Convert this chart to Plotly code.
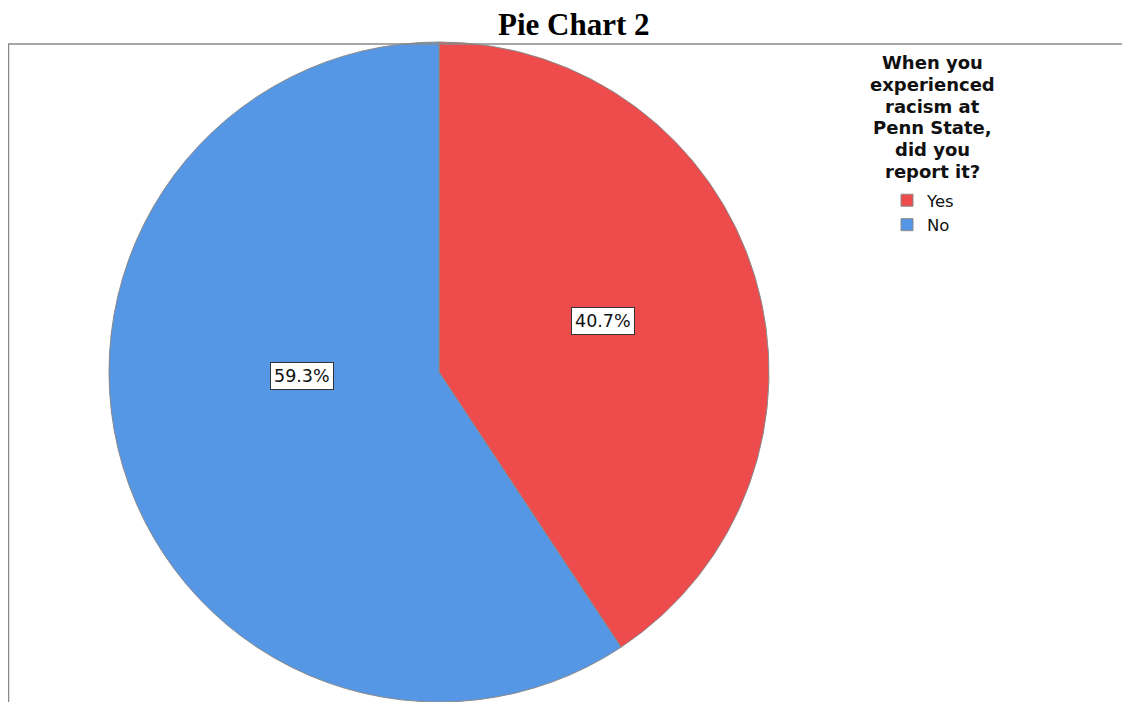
import plotly.graph_objects as go

# ---- data ----
categories = ["Yes", "No"]
percentages = [40.7, 59.3]
colors = ["#EE4B4D", "#5596E5"]
chart_title = "Pie Chart 2"
legend_title_lines = ["When you", "experienced", "racism at", "Penn State,", "did you", "report it?"]

W, H = 1130, 702
OFF = 8  # browser body margin: page px = figure px + 8


def px(x):
    return (x - OFF) / W


def py(y):
    return 1 - (y - OFF) / H


# label centres (page pixels) for the boxed percentage labels
label_pos = [(602.5, 321), (302, 376)]

cx, cy, r = 439, 372, 330

fig = go.Figure(
    go.Pie(
        labels=categories,
        values=percentages,
        sort=False,
        direction="clockwise",
        rotation=0,
        marker=dict(colors=colors, line=dict(color="#8a8a8a", width=1)),
        textinfo="none",
        hoverinfo="label+percent",
        domain=dict(x=[px(cx - r), px(cx + r)], y=[py(cy + r), py(cy - r)]),
    )
)

annotations = [
    dict(
        text=f"<b>{chart_title}</b>",
        x=px(574), y=py(25), xref="paper", yref="paper",
        xanchor="center", yanchor="middle", showarrow=False,
        font=dict(family="Liberation Serif", size=31, color="black"),
    ),
]
for i, line in enumerate(legend_title_lines):
    annotations.append(
        dict(
            text=f"<b>{line}</b>",
            x=px(932), y=py(63 + i * 21.6), xref="paper", yref="paper",
            xanchor="center", yanchor="middle", showarrow=False,
            font=dict(family="DejaVu Sans", size=18, color="#111"),
        )
    )
for (x, y), v in zip(label_pos, percentages):
    annotations.append(
        dict(
            text=f"{v:.1f}%", x=px(x), y=py(y), xref="paper", yref="paper",
            xanchor="center", yanchor="middle", showarrow=False,
            bgcolor="white", bordercolor="#333", borderwidth=1, borderpad=3,
            font=dict(family="DejaVu Sans", size=17.5, color="#111"),
        )
    )

shapes = [
    dict(type="line", xref="paper", yref="paper", x0=px(8), x1=1, y0=py(44), y1=py(44),
         line=dict(color="#8a8a8a", width=1.5)),
    dict(type="line", xref="paper", yref="paper", x0=px(8.5), x1=px(8.5), y0=0, y1=py(44),
         line=dict(color="#8a8a8a", width=1.5)),
]

fig.update_layout(
    width=W, height=H,
    margin=dict(l=0, r=0, t=0, b=0),
    paper_bgcolor="white", plot_bgcolor="white",
    showlegend=True,
    legend=dict(
        x=px(887), y=py(183), xanchor="left", yanchor="top",
        font=dict(family="DejaVu Sans", size=16.5, color="#111"),
        itemwidth=30, tracegroupgap=0, bgcolor="rgba(0,0,0,0)",
    ),
    annotations=annotations,
    shapes=shapes,
)

fig.write_html("out.html")
